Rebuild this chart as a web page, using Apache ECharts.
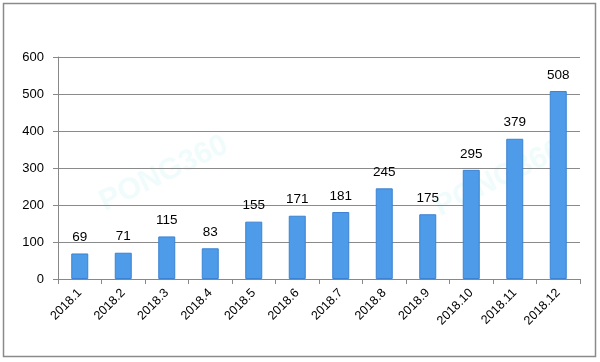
<!DOCTYPE html>
<html><head><meta charset="utf-8">
<script src="https://cdn.jsdelivr.net/npm/echarts@6/dist/echarts.min.js"></script>
<style>html,body{margin:0;padding:0;background:#fff}#c{width:600px;height:362px}</style>
</head><body><div id="c"></div>
<script>
const categories = ['2018.1','2018.2','2018.3','2018.4','2018.5','2018.6','2018.7','2018.8','2018.9','2018.10','2018.11','2018.12'];
const values = [69,71,115,83,155,171,181,245,175,295,379,508];
const chart = echarts.init(document.getElementById('c'));
chart.setOption({
  animation:false,
  backgroundColor:'#fff',
  graphic:[
    {type:'rect',shape:{x:3.5,y:3.5,width:592,height:353},style:{fill:'none',stroke:'#8a8a8a',lineWidth:1.5},z:-1},
    {type:'text',left:95,top:130,rotation:0.45,style:{text:'PONG360',font:'bold 30px Arial',fill:'rgba(150,230,225,0.14)'},z:-1},
    {type:'text',left:430,top:135,rotation:0.45,style:{text:'PONG360',font:'bold 30px Arial',fill:'rgba(150,230,225,0.14)'},z:-1}
  ],
  grid:{left:58,right:20,top:57,bottom:83},
  xAxis:{type:'category',data:categories,
    axisLine:{lineStyle:{color:'#888',width:1}},
    axisTick:{show:true,alignWithLabel:false,length:5,lineStyle:{color:'#888'}},
    axisLabel:{rotate:45,color:'#000',fontSize:12.5,fontFamily:'Arial',interval:0,margin:12}},
  yAxis:{type:'value',min:0,max:600,interval:100,
    axisLine:{show:true,lineStyle:{color:'#888'}},
    axisTick:{show:true,length:5,lineStyle:{color:'#888'}},
    splitLine:{lineStyle:{color:'#8a8a8a',width:1}},
    axisLabel:{color:'#000',fontSize:13,fontFamily:'Arial',margin:14}},
  series:[{type:'bar',data:values,barWidth:17,
    itemStyle:{color:'#4d9be9',borderColor:'#3b82d2',borderWidth:1},
    label:{show:true,position:'top',color:'#000',fontSize:13.5,fontFamily:'Arial',distance:9}}]
});
</script></body></html>
